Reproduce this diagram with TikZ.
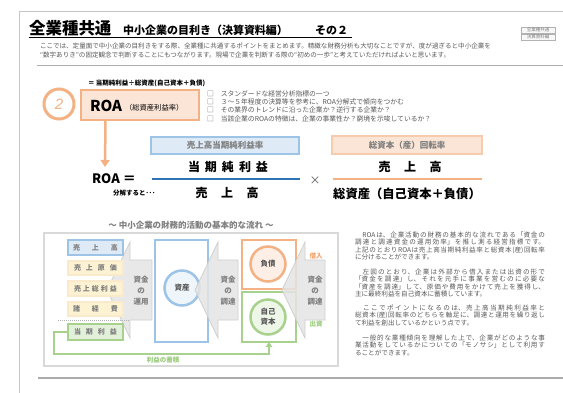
\documentclass[tikz,border=0pt]{standalone}
\usepackage{fontspec}
\setmainfont{Noto Sans CJK JP}
\newfontfamily\lsans{Liberation Sans}
\usetikzlibrary{arrows.meta}
\XeTeXlinebreaklocale "ja"
\XeTeXlinebreakskip=0pt plus 3pt
\newcommand\myfs[1]{\fontsize{#1}{#1}\selectfont}
\definecolor{org}{HTML}{F4B183}
\definecolor{orgtxt}{HTML}{F2A36B}
\definecolor{orgfill}{HTML}{FBE5D6}
\definecolor{orgline}{HTML}{F8CBAD}
\definecolor{blu}{HTML}{9DC3E6}
\definecolor{blufill}{HTML}{DEEBF7}
\definecolor{bluline}{HTML}{2E75B6}
\definecolor{grn}{HTML}{A9D18E}
\definecolor{grntxt}{HTML}{9BCB7C}
\definecolor{grnfill}{HTML}{E2F0D9}
\definecolor{ylwfill}{HTML}{FDF2D2}
\definecolor{ylwline}{HTML}{F8EACB}
\definecolor{txtgray}{HTML}{7F7F7F}
\definecolor{dgray}{HTML}{595959}
\definecolor{framegray}{HTML}{D9D9D9}
\definecolor{arrgray}{HTML}{E4E4E4}
\definecolor{arrline}{HTML}{D0D0D0}
\begin{document}
\begin{tikzpicture}[x=1pt,y=-1pt,
  every node/.style={inner sep=0pt, outer sep=0pt},
  labelbox/.style={line width=1.5pt, font=\bfseries\myfs{8.5}, text=txtgray},
  bigtxt/.style={font=\bfseries\myfs{12}},
  stackbox/.style={minimum width=55pt, line width=1.2pt, font=\bfseries\myfs{7}, text=txtgray},
  arrtxt/.style={font=\bfseries\fontsize{7.5}{11}\selectfont, text=txtgray, align=center},
  blockarrow/.style={fill=arrgray, draw=arrline, line width=0.8pt, fill opacity=0.85},
  circ/.style={circle, line width=2.5pt, minimum size=35pt, font=\bfseries\fontsize{7.5}{10}\selectfont, text=dgray, align=center},
  para/.style={anchor=north west, text width=190pt, align=justify, font=\fontsize{6.6}{7.6}\selectfont, text=dgray},
  tag/.style={draw=gray!60, fill=gray!6, minimum width=34pt, minimum height=6pt, font=\myfs{4.5}, text=gray}]
\useasboundingbox (0,0) rectangle (563,393);
\fill[white] (0,0) rectangle (563,393);
% page frame
\draw[gray!45, line width=0.8pt] (19,393) -- (19,11) -- (563,11);
% title
\node[anchor=base west, font=\bfseries\myfs{16.5}] (title) at (29,34.5) {全業種共通};
\node[anchor=base west, font=\bfseries\myfs{11}] (sub) at (123,34.5) {中小企業の目利き（決算資料編）};
\node[anchor=base west, font=\bfseries\myfs{11}] (sono) at (315,34.5) {その２};
\draw[line width=0.8pt] (29,37.5) -- (352,37.5);
\node[tag] (tag1) at (538,30) {全業種共通};
\node[tag] (tag2) at (538,37) {決算資料編};
\node[anchor=north west, font=\fontsize{6.55}{8.3}\selectfont, text=dgray, align=left] (intro) at (40,43.2)
{ここでは、定量面で中小企業の目利きをする際、全業種に共通するポイントをまとめます。精緻な財務分析も大切なことですが、度が過ぎると中小企業を\\“数字ありき”の固定観念で判断することにもつながります。現場で企業を判断する際の“初めの一歩”と考えていただければよいと思います。};
\draw[gray!65, line width=1.6pt] (37,65.5) -- (563,65.5);
% ROA header
\node[anchor=west, font=\bfseries\myfs{6.5}] (eq) at (88,83) {＝ 当期純利益÷総資産(自己資本＋負債)};
\node[circle, draw=org, line width=3pt, fill=white, minimum size=30pt, font=\lsans\itshape\myfs{15}, text=org] (two) at (59,104) {2};
\node[draw=org, fill=orgfill, line width=2pt, minimum width=118pt, minimum height=30pt] (roabox) at (139.5,105.5) {};
\node[anchor=base west, font=\bfseries\myfs{15}] (roa) at (90,112) {ROA};
\node[anchor=base west, font=\myfs{7.3}] (roasub) at (125,111) {（総資産利益率）};
\node[anchor=north west, font=\fontsize{6.8}{8.3}\selectfont, text=dgray, align=left] (chk) at (207,90.6)
{□\hspace{7pt}スタンダードな経営分析指標の一つ\\□\hspace{7pt}３～５年程度の決算等を参考に、ROA分解式で傾向をつかむ\\□\hspace{7pt}その業界のトレンドに沿った企業か？逆行する企業か？\\□\hspace{7pt}当該企業のROAの特徴は、企業の事業性か？窮境を示唆しているか？};
\coordinate (roatip) at (105,167);
\draw[org, line width=2.5pt, -{Triangle[length=7pt,width=9pt]}] (roabox.south west) ++(25,0) -- (roatip);
% formula
\node[draw=blu, fill=blufill, labelbox, minimum width=148pt, minimum height=17pt] (blab) at (225,145.5) {売上高当期純利益率};
\node[bigtxt] (num1) at (228,167) {当\hspace{5pt}期\hspace{5pt}純\hspace{5pt}利\hspace{5pt}益};
\draw[bluline, line width=2.2pt] (152,179) -- (300,179);
\node[bigtxt] (den1) at (227,193) {売\hspace{13.5pt}上\hspace{13.5pt}高};
\node[anchor=west, font=\bfseries\myfs{13}] (roaeq) at (92,179) {ROA ＝};
\node[anchor=west, font=\bfseries\myfs{6.5}] (bunkai) at (113,193) {分解すると･･･};
\node[font=\myfs{11}, text=dgray] (times) at (315,181) {×};
\node[draw=orgline, fill=orgfill, labelbox, minimum width=150pt, minimum height=18pt] (olab) at (407,145) {総資本（産）回転率};
\node[bigtxt] (num2) at (410,167) {売\hspace{13.5pt}上\hspace{13.5pt}高};
\draw[org, line width=2.2pt] (333,179) -- (482,179);
\node[font=\bfseries\myfs{12.3}] (den2) at (407,194) {総資産（自己資本＋負債）};
% flow figure
\node[font=\bfseries\myfs{8.5}, text=txtgray] (ftitle) at (191,225) {～ 中小企業の財務的活動の基本的な流れ ～};
\draw[framegray, line width=2pt] (44,233) rectangle (338,366);
% left arrow
\filldraw[blockarrow] (107,290) -- (130,242) -- (130,260) -- (152,260) -- (152,320) -- (130,320) -- (130,338) -- cycle;
\node[arrtxt] (unyo) at (141,291) {資金\\の\\運用};
% stack
\node[stackbox, draw=blu, fill=blufill, minimum height=15pt] (uri) at (95.5,247.5) {売\hspace{12pt}上\hspace{12pt}高};
\node[stackbox, draw=ylwline, fill=ylwfill, minimum height=14pt] (genka) at (95.5,268) {売\hspace{5pt}上\hspace{5pt}原\hspace{5pt}価};
\node[stackbox, draw=ylwline, fill=ylwfill, minimum height=15pt] (sori) at (95.5,288.5) {売\hspace{2pt}上\hspace{2pt}総\hspace{2pt}利\hspace{2pt}益};
\node[stackbox, draw=ylwline, fill=ylwfill, minimum height=14pt] (keihi) at (95.5,309) {諸\hspace{12pt}経\hspace{12pt}費};
\draw[gray!60, line width=0.6pt, dash pattern=on 1pt off 1pt] (58,320.5) -- (130,320.5);
\node[stackbox, draw=grn, fill=grnfill, minimum height=16pt] (touki) at (95.5,332) {当\hspace{5pt}期\hspace{5pt}利\hspace{5pt}益};
% asset
\node[draw=blu, fill=white, line width=2pt, minimum width=53pt, minimum height=102pt] (asbox) at (181.5,291) {};
\node[circ, draw=blu, fill=blufill!50] (ascirc) at (182,288) {資産};
\filldraw[blockarrow] (195,290) -- (218,242) -- (218,260) -- (238,260) -- (238,320) -- (218,320) -- (218,338) -- cycle;
\node[arrtxt] (chotatsu1) at (228,291) {資金\\の\\調達};
% liabilities / equity
\node[draw=org, fill=white, line width=2pt, minimum width=54pt, minimum height=49pt] (fsbox) at (269,264.5) {};
\node[circ, draw=org, fill=orgfill!60] (fscirc) at (268,264) {負債};
\node[draw=grn, fill=white, line width=2pt, minimum width=54pt, minimum height=50pt] (jkbox) at (269,317) {};
\node[circ, draw=grn, fill=grnfill!60] (jkcirc) at (268,317) {自己\\資本};
\filldraw[blockarrow] (282,290) -- (305,242) -- (305,260) -- (325,260) -- (325,320) -- (305,320) -- (305,338) -- cycle;
\node[arrtxt] (chotatsu2) at (315,291) {資金\\の\\調達};
\node[font=\bfseries\myfs{6.5}, text=orgtxt] (kariire) at (316,256) {借入};
\node[font=\bfseries\myfs{6.5}, text=grntxt] (shusshi) at (316,324) {出資};
% retained earnings loop
\coordinate (fb) at (54,354);
\draw[grn, line width=2pt, -{Triangle[length=5pt,width=6.5pt]}] (touki.west) -| (fb) -| (jkbox.south);
\node[font=\bfseries\myfs{6.5}, text=grntxt] (fblabel) at (163,360.5) {利益の蓄積};
% right text
\node[para] (p1) at (355,231.6) {　ROAは、企業活動の財務の基本的な流れである「資金の\linebreak 調達と調達資金の運用効率」を推し測る経営指標です。\linebreak 上記のとおりROAは売上高当期純利益率と総資本(産)回転率\linebreak に分けることができます。};
\node[para] (p2) at (355,268.6) {　左図のとおり、企業は外部から借入または出資の形で\linebreak 「資金を調達」し、それを元手に事業を営むのに必要な\linebreak 「資産を調達」して、原価や費用をかけて売上を獲得し、\linebreak 主に最終利益を自己資本に蓄積しています。};
\node[para] (p3) at (355,304.6) {　ここでポイントになるのは、売上高当期純利益率と\linebreak 総資本(産)回転率のどちらを軸足に、調達と運用を繰り返し\linebreak て利益を創出しているかという点です。};
\node[para] (p4) at (355,334.6) {　一般的な業種傾向を理解した上で、企業がどのような事\linebreak 業活動をしているかについての「モノサシ」として利用す\linebreak ることができます。};
\draw[gray!65, line width=1.4pt] (38,378) -- (563,378);
\end{tikzpicture}
\end{document}
